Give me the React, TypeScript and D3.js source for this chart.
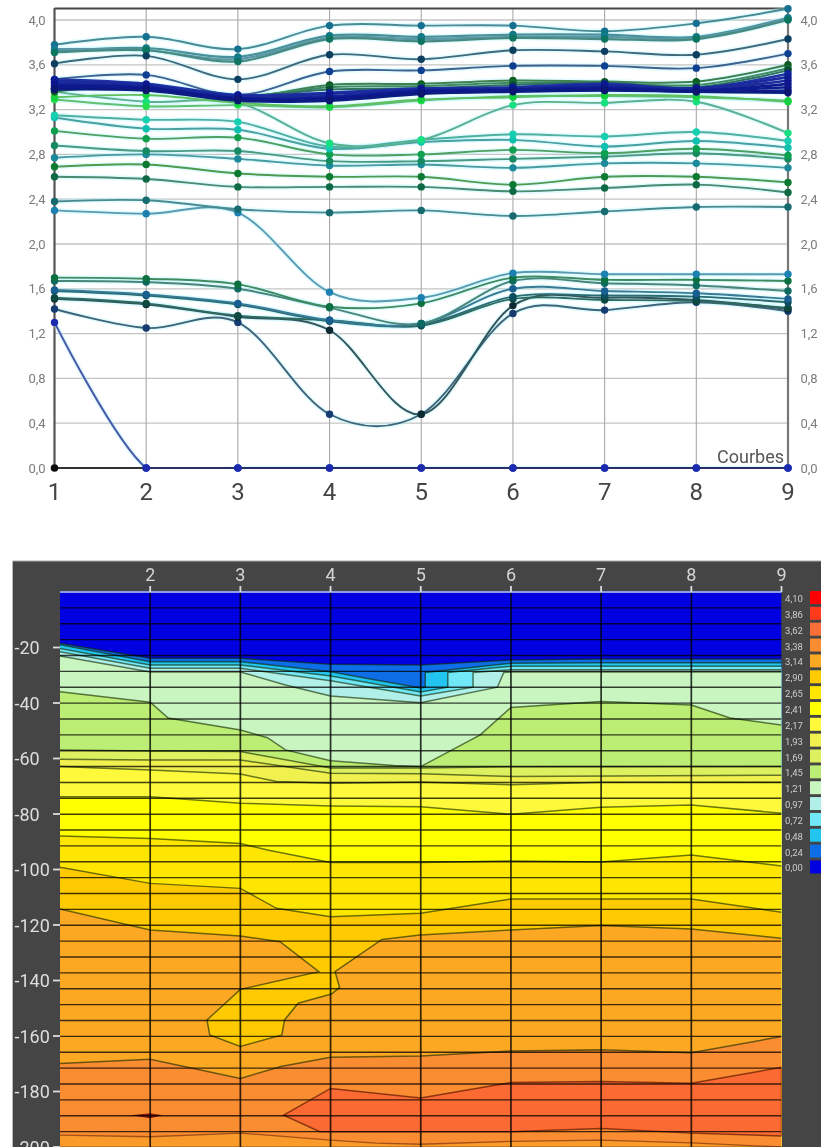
import React from "react";
import * as d3 from "d3";

const columns = [1, 2, 3, 4, 5, 6, 7, 8, 9];
const yTicks = [0, 0.4, 0.8, 1.2, 1.6, 2.0, 2.4, 2.8, 3.2, 3.6, 4.0];
const depthTicks = [20, 40, 60, 80, 100, 120, 140, 160, 180, 200];
const legendLevels = ["4,10","3,86","3,62","3,38","3,14","2,90","2,65","2,41","2,17","1,93","1,69","1,45","1,21","0,97","0,72","0,48","0,24","0,00"];
const legendColors = ["#ff0000","#ff3a1a","#f87038","#fa8c30","#fca822","#ffcb00","#ffe600","#ffff00","#fff93a","#f0f050","#dcf060","#bcee74","#c8f5c0","#b0f0e8","#70e8f8","#20c4f0","#0a6ee8","#0000e0"];

type Row = [number[], string, string, number];
const rowZero: Row = [[0,0,0,0,0,0,0,0,0], "#2a2f66", "#1a1a90", 1.9];
const rowE0: Row = [[1.30,0,0,0,0,0,0,0,0], "#4a5aa8", "#1a2ab0", 2.1];
const rowE8: Row = [[1.42,1.25,1.30,0.48,0.48,1.38,1.41,1.48,1.40], "#3f6478", "#123a70", 1.9];
const rowE6: Row = [[1.51,1.46,1.35,1.23,0.48,1.45,1.52,1.50,1.42], "#35555a", "#102a30", 1.9];
const rowE5: Row = [[1.52,1.47,1.36,1.32,1.27,1.51,1.50,1.49,1.43], "#2f6a60", "#0f4a40", 1.9];
const rowE4: Row = [[1.58,1.54,1.46,1.31,1.28,1.53,1.54,1.53,1.48], "#2a6a70", "#0f5060", 1.9];
const rowE3: Row = [[1.59,1.55,1.47,1.32,1.29,1.60,1.58,1.56,1.51], "#3a7a95", "#155f90", 1.9];
const rowE2: Row = [[1.67,1.66,1.60,1.43,1.29,1.67,1.65,1.63,1.58], "#4a8578", "#0f6a60", 1.9];
const rowE1: Row = [[1.70,1.69,1.64,1.44,1.47,1.70,1.68,1.68,1.67], "#3f8a60", "#0f7040", 1.9];
const rowD2: Row = [[2.30,2.27,2.28,1.57,1.52,1.74,1.73,1.73,1.73], "#5a9ab0", "#1a80b0", 1.9];
const rowD1: Row = [[2.38,2.39,2.31,2.28,2.30,2.25,2.29,2.33,2.33], "#4a8a90", "#156a70", 1.9];
const rowC7: Row = [[2.60,2.58,2.51,2.51,2.51,2.47,2.50,2.53,2.46], "#4a8a70", "#0f6a45", 1.9];
const rowC6: Row = [[2.69,2.71,2.63,2.60,2.60,2.53,2.60,2.60,2.55], "#4f9a50", "#0f7a30", 1.9];
const rowC5: Row = [[2.77,2.80,2.76,2.70,2.71,2.68,2.72,2.72,2.68], "#4a9aa0", "#1a8a9a", 1.9];
const rowC4: Row = [[2.88,2.83,2.83,2.74,2.74,2.76,2.78,2.81,2.76], "#4a9a80", "#158a60", 1.9];
const rowC3: Row = [[3.01,2.94,2.95,2.80,2.80,2.84,2.81,2.85,2.79], "#4fa060", "#10a050", 1.9];
const rowC2: Row = [[3.13,3.03,3.02,2.85,2.91,2.93,2.87,2.92,2.86], "#4aa0a0", "#10c0b0", 1.9];
const rowC1: Row = [[3.15,3.11,3.09,2.87,2.93,2.98,2.96,3.00,2.92], "#50b0a0", "#15d0b0", 1.9];
const rowL3: Row = [[3.36,3.27,3.26,2.90,2.93,3.24,3.26,3.27,2.99], "#5ab090", "#18e080", 1.9];
const rowL2: Row = [[3.29,3.23,3.24,3.22,3.28,3.32,3.32,3.31,3.28], "#60c070", "#20e050", 1.9];
const rowL1: Row = [[3.31,3.33,3.26,3.23,3.29,3.31,3.33,3.32,3.27], "#60c060", "#18d040", 1.9];
const rowA1: Row = [[3.78,3.85,3.74,3.95,3.95,3.95,3.90,3.97,4.10], "#4a8a95", "#156f90", 1.9];
const rowA2: Row = [[3.72,3.75,3.67,3.86,3.85,3.87,3.87,3.85,4.02], "#4a9098", "#107a80", 2.2];
const rowA3: Row = [[3.74,3.73,3.65,3.84,3.83,3.85,3.85,3.84,4.01], "#5a98a8", "#157a95", 2.2];
const rowA4: Row = [[3.71,3.73,3.63,3.83,3.81,3.84,3.83,3.83,4.00], "#4a8a80", "#0f7560", 2.2];
const rowA5: Row = [[3.61,3.68,3.47,3.69,3.65,3.73,3.72,3.69,3.83], "#40687a", "#0f3f60", 1.9];
const rowA6: Row = [[3.47,3.51,3.33,3.54,3.55,3.59,3.59,3.57,3.70], "#40608f", "#103f90", 1.9];
const rowG1: Row = [[3.36,3.42,3.31,3.42,3.43,3.46,3.45,3.45,3.60], "#3f8050", "#0a5a20", 2];
const rowG2: Row = [[3.38,3.41,3.32,3.40,3.41,3.44,3.44,3.42,3.57], "#3f8a60", "#0a6a30", 2];
const rowG3: Row = [[3.39,3.40,3.32,3.38,3.39,3.42,3.44,3.40,3.55], "#2f7060", "#0a4a30", 2];
const rowB1: Row = [[3.47,3.43,3.33,3.35,3.39,3.40,3.43,3.39,3.52], "#2030a0", "#0a20a0", 2.6];
const rowB2: Row = [[3.45,3.42,3.32,3.34,3.38,3.39,3.42,3.39,3.49], "#1a2aa0", "#0a1a90", 2.6];
const rowB3: Row = [[3.44,3.41,3.31,3.32,3.37,3.38,3.41,3.38,3.46], "#1a2a9a", "#0a1a90", 2.6];
const rowB4: Row = [[3.42,3.40,3.30,3.31,3.37,3.38,3.40,3.37,3.43], "#101f90", "#08188a", 2.6];
const rowB5: Row = [[3.41,3.39,3.30,3.30,3.36,3.37,3.39,3.37,3.40], "#101a90", "#08188a", 2.6];
const rowB6: Row = [[3.39,3.38,3.29,3.29,3.35,3.37,3.38,3.36,3.37], "#0a1a8a", "#081580", 2.6];
const rowB7: Row = [[3.38,3.37,3.28,3.28,3.34,3.36,3.37,3.36,3.35], "#0a1a80", "#081270", 2.6];
const rows: Row[] = [rowE0,rowE8,rowE6,rowE5,rowE4,rowE3,rowE2,rowE1,rowD2,rowD1,rowC7,rowC6,rowC5,rowC4,rowC3,rowC2,rowC1,rowL3,rowL2,rowL1,rowA1,rowA2,rowA3,rowA4,rowA5,rowA6,rowG1,rowG2,rowG3,rowB1,rowB2,rowB3,rowB4,rowB5,rowB6,rowB7];

// Contours: [column, depth]
type P = [number, number];
const c024: P[] = [[1,18.5],[2,23.9],[3,23.9],[4,26],[5,26.3],[6,24.5],[7,24.1],[9,24.1]];
const c048: P[] = [[1,19],[2,25.1],[3,25.1],[4,28.7],[4.5,31.7],[5,34.6],[5.05,34.3],[5.05,29],[6,25.7],[7,25.5],[9,25.5]];
const c072: P[] = [[1,20.4],[2,26.3],[3,26.3],[4,30.3],[5,36],[5.3,34.3],[5.3,29],[6,26.8],[9,26.8]];
const c097: P[] = [[1,21.5],[2,27.5],[3,27.5],[4,32],[5,37.5],[5.58,34.3],[5.58,29],[6,28],[9,28]];
const c121: P[] = [[1,23.1],[2,28.8],[3,28.8],[3.5,33.5],[4,37.5],[5,39.9],[5.85,34.3],[5.92,29],[6,28.8],[9,28.8]];
const c145: P[] = [[1,35.9],[2,39.7],[2.2,45.4],[3,49.7],[3.3,52.5],[3.5,56.9],[4,60.8],[4.7,62.5],[5,62.9],[5.66,51.5],[6,41.6],[7,39.5],[8,40.7],[8.43,45.4],[9,47.9]];
const c169: P[] = [[1,56.9],[2,57.3],[3,57.5],[4,63.4],[5,63.4],[6,63],[9,62.9]];
const c193: P[] = [[1,60.3],[2,60.5],[3,60.5],[4,65.3],[5,65.5],[6,66.5],[9,66]];
const c217: P[] = [[1,62.9],[2,64.1],[3,65.6],[3.4,68.3],[4,68.9],[5,68.5],[6,69.5],[7,68.6],[9,68.6]];
const c241: P[] = [[1,73.8],[2,73.8],[3,76.1],[4,77.1],[5,77.4],[6,80.1],[7,77.6],[8,76.8],[9,79.7]];
const c265: P[] = [[1,87.9],[2,88.8],[3,90.6],[3.3,93],[4,97.5],[5,97.5],[6,96.9],[7,97.3],[8,94.8],[9,98.7]];
const c290: P[] = [[1,99.2],[2,105],[3,106.8],[3.4,114],[4,117],[5,115.8],[6,110.6],[8,110.6],[9,115.4]];
const c314: P[] = [[1,114.2],[2,121.8],[3,124],[3.44,126],[3.87,136.8],[3,143.2],[2.63,154.2],[2.66,159.6],[3,163.8],[3.46,159.6],[3.49,154.2],[3.64,148.2],[4.01,144.9],[4.1,142.5],[4.05,136.8],[4.57,125.2],[4.99,123.6],[6,121.8],[7,120.2],[8,121.4],[9,124.8]];
const c338: P[] = [[1,169.9],[2,168.4],[3,175.3],[3.45,171],[4,167.7],[5,167.2],[6,165.4],[7,165],[8,166],[9,160.2]];
const island362: P[] = [[3.48,188.5],[4,178.9],[5,182.3],[6,176.8],[7,176.4],[8,177],[9,171.3],[9,196],[8,195],[7,193.3],[6,194.5],[5,194.5],[4,194.5],[3.88,194.5]];
const lens386: P[] = [[1.78,188.6],[2,187.8],[2.14,188.6],[2,189.6]];
const c338b: P[] = [[1,195.7],[2,196.3],[3,195],[4,197.5],[4.5,198.6],[5,199],[6,198],[7,197.5],[8,198.5],[9,200]];
const contourBands: [P[], number][] = [[c024,16],[c048,15],[c072,14],[c097,13],[c121,12],[c145,11],[c169,10],[c193,9],[c217,8],[c241,7],[c265,6],[c290,5],[c314,4],[c338,3]];

const W = 821, H = 1147;
const x = d3.scaleLinear().domain([1, 9]).range([54.5, 788]);
const y = d3.scaleLinear().domain([0, 4]).range([468, 20]);
const cx = d3.scaleLinear().domain([1, 9]).range([60, 781.5]);
const cy = d3.scaleLinear().domain([0, 200]).range([592, 1147]);
const rowLines = d3.range(1, 36).map((k) => 592 + k * 15.87);

const spline = d3.line<number>().x((_, i) => x(columns[i])).y((v) => y(v)).curve(d3.curveCardinal.tension(0));
const poly = d3.line<P>().x((p) => cx(p[0])).y((p) => cy(p[1]));
const below = (pts: P[]) => poly(pts)! + `L${cx(9)},${H}L${cx(1)},${H}Z`;

const font = "Roboto, 'Liberation Sans', sans-serif";

export default function App() {
  return (
    <svg width={W} height={H} viewBox={`0 0 ${W} ${H}`} style={{ position: "absolute", left: 0, top: 0, background: "#fff" }}>
      <defs>
        <filter id="soft" x="0" y="0" width={W} height={H} filterUnits="userSpaceOnUse">
          <feGaussianBlur stdDeviation="0.75" />
        </filter>
        <filter id="softText" x="0" y="0" width={W} height={H} filterUnits="userSpaceOnUse">
          <feGaussianBlur stdDeviation="0.45" />
        </filter>
        <clipPath id="plot"><rect x={cx(1)} y={592} width={cx(9) - cx(1)} height={H - 592} /></clipPath>
        <clipPath id="curves"><rect x={0} y={0} width={W} height={y(0)} /></clipPath>
      </defs>
      <g filter="url(#soft)">
        {/* grid */}
        {yTicks.slice(1).map((t) => (
          <line key={t} x1={x(1)} x2={x(9)} y1={y(t)} y2={y(t)} stroke="#c4c4c4" strokeWidth={1.3} />
        ))}
        {columns.slice(1, 8).map((c) => (
          <line key={c} x1={x(c)} x2={x(c)} y1={8} y2={468} stroke="#a8a8ac" strokeWidth={1.1} />
        ))}
        <line x1={x(1)} x2={x(9)} y1={8.5} y2={8.5} stroke="#444" strokeWidth={2.2} />
        <line x1={x(1)} x2={x(1)} y1={8} y2={468} stroke="#555" strokeWidth={2.2} />
        <line x1={x(9)} x2={x(9)} y1={8} y2={468} stroke="#777" strokeWidth={2.2} />
        {/* series */}
        <g clipPath="url(#curves)">
          {rows.map((r, i) => (
            <path key={"h" + i} d={spline(r[0])!} fill="none" stroke="#a8f4ff" strokeOpacity={0.35} strokeWidth={5} />
          ))}
          {rows.map((r, i) => (
            <path key={"l" + i} d={spline(r[0])!} fill="none" stroke={r[1]} strokeWidth={r[3]} />
          ))}
        </g>
        {rows.map((r, i) =>
          r[0].map((v, j) => <circle key={i + "-" + j} cx={x(columns[j])} cy={y(v)} r={3.7} fill={r[2]} />)
        )}
        <line x1={x(1)} x2={x(2)} y1={y(0)} y2={y(0)} stroke="#333" strokeWidth={1.9} />
        <line x1={x(2)} x2={x(9)} y1={y(0)} y2={y(0)} stroke={rowZero[1]} strokeWidth={rowZero[3]} />
        {columns.slice(1).map((c, i) => (
          <circle key={c} cx={x(c)} cy={y(rowZero[0][i + 1])} r={3.8} fill="#1a2ab0" />
        ))}
        <circle cx={x(1)} cy={y(rowZero[0][0])} r={3.8} fill="#111" />

        {/* dark panel */}
        <rect x={13} y={561} width={W - 13} height={H - 561} fill="#444" />
        <line x1={12.5} x2={W} y1={561} y2={561} stroke="#aaa" strokeWidth={1.2} />
        <line x1={12.5} x2={12.5} y1={561} y2={H} stroke="#bbb" strokeWidth={1} />
        <g clipPath="url(#plot)">
          <rect x={cx(1)} y={592} width={cx(9) - cx(1)} height={H - 592} fill={legendColors[17]} />
          {contourBands.map(([pts, ci], i) => (
            <path key={i} d={below(pts)} fill={legendColors[ci]} />
          ))}
          <path d={below(c338b)} fill="#f99a2c" />
          <path d={poly(island362)! + "Z"} fill="#fb6a30" />
          <path d={poly(lens386)! + "Z"} fill="#8a1a10" />
          {contourBands.map(([pts], i) => (
            <path key={"s" + i} d={poly(pts)!} fill="none" stroke="#142800" strokeOpacity={0.62} strokeWidth={1.5} />
          ))}
          <path d={poly(island362)! + "Z"} fill="none" stroke="#501000" strokeOpacity={0.65} strokeWidth={1.5} />
          <path d={poly(c338b)!} fill="none" stroke="#501000" strokeOpacity={0.5} strokeWidth={1.3} />
          {rowLines.map((ry, i) => (
            <line key={i} x1={cx(1)} x2={cx(9)} y1={ry} y2={ry} stroke="#000" strokeOpacity={0.75} strokeWidth={1.4} />
          ))}
          {columns.slice(1, 8).map((c) => (
            <line key={c} x1={cx(c)} x2={cx(c)} y1={592} y2={H} stroke="#000" strokeOpacity={0.8} strokeWidth={1.7} />
          ))}
        </g>
        <line x1={cx(1)} x2={cx(9)} y1={592} y2={592} stroke="#8f9ae8" strokeWidth={2} />
        {columns.slice(1).map((c) => (
          <line key={c} x1={cx(c)} x2={cx(c)} y1={586} y2={592} stroke="#ddd" strokeWidth={1.8} />
        ))}
        {depthTicks.map((d) => (
          <line key={d} x1={53} x2={60} y1={cy(d)} y2={cy(d)} stroke="#ddd" strokeWidth={1.8} />
        ))}
        {legendColors.map((col, i) => (
          <rect key={col + i} x={810} y={591 + i * 15.85} width={11} height={13} fill={col} />
        ))}
      </g>

      {/* text */}
      <g fontFamily={font} filter="url(#softText)">
        {yTicks.map((t) => (
          <g key={t} fontSize={13} fill="#7c7c7c">
            <text x={37} y={y(t) + 4.5} textAnchor="middle">{d3.format(".1f")(t).replace(".", ",")}</text>
            <text x={809} y={y(t) + 4.5} textAnchor="middle">{d3.format(".1f")(t).replace(".", ",")}</text>
          </g>
        ))}
        {columns.map((c) => (
          <text key={c} x={x(c)} y={500} fontSize={24} fill="#444" textAnchor="middle">{c}</text>
        ))}
        <text x={784} y={463} fontSize={18} fill="#555" textAnchor="end">Courbes</text>
        {columns.slice(1).map((c) => (
          <text key={c} x={cx(c)} y={581} fontSize={18} fill="#d4d4d4" textAnchor="middle">{c}</text>
        ))}
        {depthTicks.map((d) => (
          <text key={d} x={14.5} y={cy(d) + 6.5} fontSize={18} fill="#ddd" textAnchor="start">{"-" + d}</text>
        ))}
        {legendLevels.map((l, i) => (
          <text key={l} x={794} y={602 + i * 15.85} fontSize={9.5} fill="#ccc" textAnchor="middle">{l}</text>
        ))}
      </g>
    </svg>
  );
}
